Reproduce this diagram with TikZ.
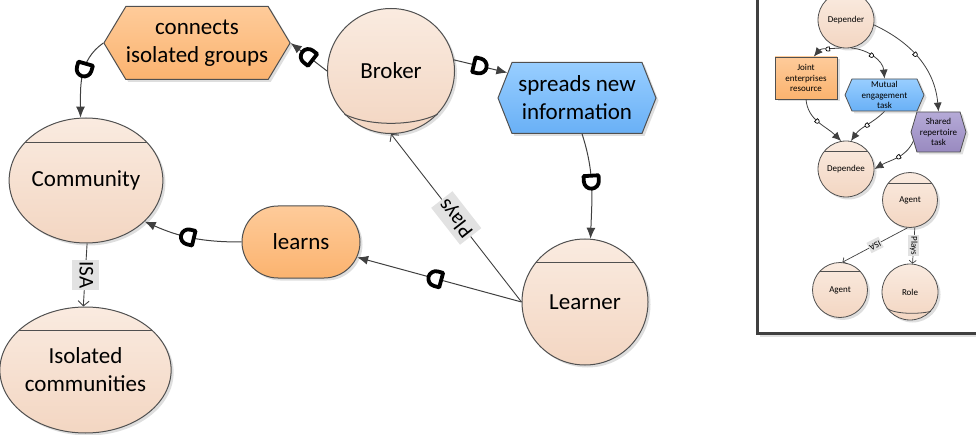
\documentclass[tikz,border=0pt]{standalone}
\usepackage{fontspec}
\setmainfont{Carlito}
\usetikzlibrary{shapes.geometric,shapes.symbols,shapes.misc,arrows.meta,decorations.markings,shadows}

\definecolor{edgegray}{HTML}{404040}
\definecolor{rimgray}{HTML}{505050}
\definecolor{peachtop}{HTML}{FAEBE0}
\definecolor{peachbot}{HTML}{F3D6C2}
\definecolor{orangetop}{HTML}{FECB9A}
\definecolor{orangebot}{HTML}{FBB36F}
\definecolor{bluetop}{HTML}{98CEFF}
\definecolor{bluebot}{HTML}{69B0F6}
\definecolor{purpletop}{HTML}{B5AAD7}
\definecolor{purplebot}{HTML}{998AC0}
\definecolor{tagfill}{HTML}{E2E2E2}
\definecolor{framegray}{HTML}{404040}

\tikzset{
  bigtext/.style={font=\fontsize{23}{28}\selectfont},
  tagtext/.style={font=\fontsize{21}{24}\selectfont},
  smalltext/.style={font=\fontsize{9}{10.5}\selectfont},
  tinytag/.style={font=\fontsize{9}{10}\selectfont},
  softshadow/.style={drop shadow={shadow xshift=2.5pt, shadow yshift=-2.5pt, fill=black, opacity=0.13}},
  actor/.style={ellipse, draw=rimgray, line width=1pt, top color=peachtop, bottom color=peachbot,
    inner sep=0pt, align=center, softshadow},
  header/.style={path picture={\draw[rimgray, line width=1pt]
    ([yshift=-#1]path picture bounding box.north west) -- ([yshift=-#1]path picture bounding box.north east);}},
  hexa/.style={shape=signal, signal to=west and east, draw=rimgray, line width=1pt,
    inner sep=0pt, align=center, softshadow},
  orangefill/.style={top color=orangetop, bottom color=orangebot},
  bluefill/.style={top color=bluetop, bottom color=bluebot},
  purplefill/.style={top color=purpletop, bottom color=purplebot},
  dep/.style={draw=edgegray, line width=1pt, -{Latex[length=11pt,width=9pt]}},
  isa/.style={draw=edgegray, line width=0.9pt, -{Straight Barb[length=5pt,width=11pt]}},
  tag/.style={fill=tagfill, text=black, inner xsep=2pt, inner ysep=3pt, text height=16pt, text depth=5pt},
  ltag/.style={fill=tagfill, text=black, inner xsep=1pt, inner ysep=1pt, text height=7pt, text depth=2.5pt, tinytag},
  ldep/.style={draw=edgegray, line width=0.8pt, -{Latex[length=9pt,width=8pt]}},
  lisa/.style={draw=edgegray, line width=0.7pt, -{Straight Barb[length=3pt,width=7pt]}},
  dmark/.style={postaction={decorate, decoration={markings, mark=at position #1 with {
    \draw[black, line width=3.8pt, fill=white, line join=round]
      (-7pt,-7.5pt) -- (-7pt,7.5pt) -- (-1.5pt,7.5pt) arc[start angle=90, end angle=-90, radius=7.5pt] -- cycle;}}}},
  smark/.style={postaction={decorate, decoration={markings, mark=at position #1 with {
    \draw[black, line width=0.7pt, fill=white]
      (-1.8pt,-2pt) -- (-1.8pt,2pt) -- (0pt,2pt) arc[start angle=90, end angle=-90, radius=2pt] -- cycle;}}}},
}

\begin{document}
\begin{tikzpicture}[x=1pt, y=1pt]
\useasboundingbox (0,0) rectangle (976,434);
\clip (0,0) rectangle (976,434);

% ---------- main model ----------
\node[actor, header=25, minimum width=142, minimum height=125, bigtext] (comm) at (86,253.5) {Community};
\node[actor, header=23, minimum width=155, minimum height=126, bigtext] (iso) at (85.5,64) {Isolated\\communities};
\node[actor, minimum width=127, minimum height=125, bigtext] (broker) at (391,363) {Broker};
\draw[rimgray, line width=1pt] (broker.-137) .. controls +(25,-12) and +(-25,-12) .. (broker.-43);
\node[actor, header=23, minimum width=126, minimum height=126, bigtext] (learner) at (585,132) {Learner};

\node[hexa, orangefill, minimum width=173, minimum height=73, signal pointer angle=118, bigtext]
  (conn) at (197,391) {connects\\isolated groups};
\node[hexa, bluefill, minimum width=158, minimum height=71, signal pointer angle=137, bigtext]
  (spreads) at (577,336) {spreads new\\information};
\node[rounded rectangle, draw=rimgray, line width=1pt, orangefill, minimum width=118, minimum height=72,
  inner sep=0pt, softshadow, bigtext] (learns) at (301,192) {learns};

% dependencies
\draw[dep, dmark=0.55] (broker.west) -- (conn.east);
\draw[dep, dmark=0.42] (conn.west) to[out=215, in=90] (comm.95);
\draw[dep, dmark=0.5] (broker.10) -- (spreads.160);
\draw[dep, dmark=0.47] (spreads.-82) to[out=-72, in=88] (learner.85);
\draw[dep, dmark=0.53] (learner.west) -- (learns);
\draw[dep, dmark=0.55] (learns.west) to[bend left=12] (comm.-35);

% role and specialisation links
\draw[isa] (learner.west) -- node[tag, tagtext, rotate=128] {Plays} (broker.south);
\draw[isa] (comm.-89) -- node[tag, tagtext, rotate=-90] {ISA} (iso.92);

% ---------- legend ----------
\draw[black!12, line width=2pt] (760,98) -- (985,98);
\draw[framegray, line width=3pt] (757,440) -- (757,101) -- (985,101);

\node[actor, line width=0.8pt, minimum size=56, smalltext] (depender) at (846,414) {Depender};
\node[draw=rimgray, line width=0.8pt, orangefill, minimum width=62, minimum height=42, inner sep=0pt,
  align=center, softshadow, smalltext] (joint) at (806,356) {Joint\\enterprises\\resource};
\node[hexa, line width=0.8pt, bluefill, minimum width=79, minimum height=32, signal pointer angle=133, smalltext]
  (mutual) at (884.5,339) {Mutual\\engagement\\task};
\node[hexa, line width=0.8pt, purplefill, minimum width=55, minimum height=40, signal pointer angle=147, smalltext]
  (shared) at (938.5,302) {Shared\\repertoire\\task};
\node[actor, line width=0.8pt, header=11, minimum size=56, smalltext] (dependee) at (846,265) {Dependee};
\node[actor, line width=0.8pt, header=11.5, minimum size=55, smalltext] (agentA) at (910,234) {Agent};
\node[actor, line width=0.8pt, header=8.5, minimum size=55, smalltext] (agentB) at (840,144) {Agent};
\node[actor, line width=0.8pt, minimum size=56, smalltext] (role) at (910,142) {Role};
\draw[rimgray, line width=0.8pt] (role.-145) .. controls +(8,-6) and +(-12,-3) .. (role.-43);

\draw[ldep, smark=0.45] (depender.260) to[out=185, in=50] (joint.70);
\draw[ldep, smark=0.45] (depender.280) to[out=-5, in=95] (mutual.north);
\draw[ldep, smark=0.45] (depender.-10) to[out=-25, in=95] (shared.north);
\draw[ldep, smark=0.45] (joint.south) to[out=-85, in=135] (dependee.100);
\draw[ldep, smark=0.5] (mutual.south) to[out=-135, in=55] (dependee.80);
\draw[ldep, smark=0.45] (shared.200) to[out=-115, in=30] (dependee.east);

\draw[lisa] (agentA.265) -- node[ltag, rotate=207] {ISA} (agentB.85);
\draw[lisa] (agentA.-80) -- node[ltag, rotate=-90] {Plays} (role.85);
\end{tikzpicture}
\end{document}
